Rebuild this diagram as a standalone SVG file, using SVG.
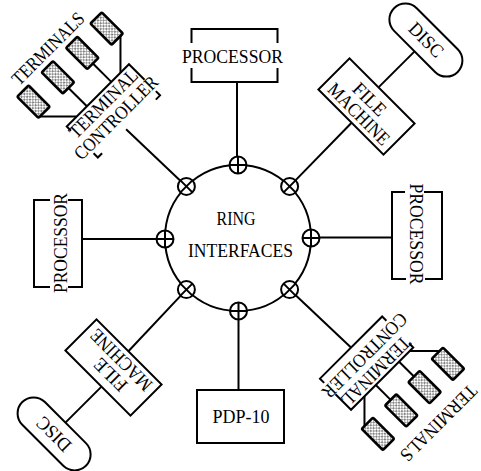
<svg xmlns="http://www.w3.org/2000/svg" width="481" height="471" viewBox="0 0 481 471">
  <style>
    .ln { fill: none; stroke: #000; stroke-width: 2; }
    .box { fill: #fff; stroke: #000; stroke-width: 2; }
    .term { fill: url(#stipple); stroke: #000; stroke-width: 2.6; }
    text { font-family: "Liberation Serif", "Times New Roman", serif; font-size: 19px; fill: #000; text-anchor: middle; }
  </style>
  <defs>
    <pattern id="stipple" width="4" height="4" patternUnits="userSpaceOnUse">
      <rect width="4" height="4" fill="#fff"/>
      <circle cx="1" cy="1.1" r="0.8" fill="#000"/>
      <circle cx="3" cy="3.1" r="0.75" fill="#000"/>
    </pattern>
    <g id="ifc-plus">
      <circle r="8.5" fill="#fff" stroke="#000" stroke-width="2"/>
      <path d="M-8.5,0H8.5M0,-8.5V8.5" stroke="#000" stroke-width="2"/>
    </g>
    <g id="ifc-cross">
      <circle r="8.5" fill="#fff" stroke="#000" stroke-width="2"/>
      <path d="M-6,-6L6,6M-6,6L6,-6" stroke="#000" stroke-width="2"/>
    </g>
  </defs>

  <rect width="481" height="471" fill="#fff"/>

  <!-- links between the ring interfaces and the attached machines -->
  <g id="connectors" class="ln">
    <path d="M237,82V165"/>
    <path d="M311,237.5H392"/>
    <path d="M238.5,311V390"/>
    <path d="M82,239H165"/>
    <path d="M289.6,186.4L351.6,122.8"/>
    <path d="M378.5,87.4L414.6,51.4"/>
    <path d="M186.4,186.4L126.1,129.3"/>
    <path d="M289.6,289.6L351,347.5"/>
    <path d="M186.4,289.6L128.4,351.2"/>
    <path d="M101.5,386.6L65.4,422.6"/>
    <!-- terminal stubs onto the controller bus -->
    <g transform="translate(113.4,110.9) rotate(-45)">
      <path d="M-56,-48L-30,-22M-15.5,-48V-22M19,-48V-22M58,-48L32,-22"/>
    </g>
    <g transform="translate(366.6,363.1) rotate(135)">
      <path d="M-60,-43L-39,-22M-24,-43V-22M9,-43V-22M46,-43L25,-22"/>
    </g>
  </g>

  <!-- ring with its eight interfaces -->
  <g id="ring">
    <circle cx="238" cy="238" r="73" class="ln"/>
    <text x="236" y="225" textLength="39" lengthAdjust="spacingAndGlyphs">RING</text>
    <text x="240.5" y="256.5" textLength="105" lengthAdjust="spacingAndGlyphs">INTERFACES</text>
    <use href="#ifc-plus" x="238" y="165"/>
    <use href="#ifc-plus" x="311" y="238"/>
    <use href="#ifc-plus" x="238.5" y="311"/>
    <use href="#ifc-plus" x="165" y="239"/>
    <use href="#ifc-cross" x="289.6" y="186.4"/>
    <use href="#ifc-cross" x="289.6" y="289.6"/>
    <use href="#ifc-cross" x="186.4" y="289.6"/>
    <use href="#ifc-cross" x="186.4" y="186.4"/>
  </g>

  <g id="processor-top">
    <path class="ln" d="M191.5,43V29H277.5V43M191.5,68V82H277.5V68"/>
    <text x="232.5" y="63" textLength="101" lengthAdjust="spacingAndGlyphs">PROCESSOR</text>
  </g>

  <g id="processor-left">
    <path class="ln" d="M50,200H34V287H50M68,200H82V287H68"/>
    <text transform="translate(66.5,243) rotate(-90)" textLength="100" lengthAdjust="spacingAndGlyphs">PROCESSOR</text>
  </g>

  <g id="processor-right">
    <path class="ln" d="M405,192H392V279H406M424,192H442V279H425"/>
    <text transform="translate(410,234) rotate(90)" textLength="101" lengthAdjust="spacingAndGlyphs">PROCESSOR</text>
  </g>

  <g id="pdp-10">
    <rect class="box" x="197" y="390" width="87" height="53"/>
    <text x="241" y="423" textLength="57" lengthAdjust="spacingAndGlyphs">PDP-10</text>
  </g>

  <g id="file-machine-1" transform="translate(366.5,106.5) rotate(45)">
    <rect class="box" x="-46" y="-22" width="92" height="44"/>
    <text x="-3" y="-1" textLength="39" lengthAdjust="spacingAndGlyphs">FILE</text>
    <text x="0" y="17" textLength="79" lengthAdjust="spacingAndGlyphs">MACHINE</text>
  </g>

  <g id="disc-1" transform="translate(425.9,40.1) rotate(45)">
    <rect class="box" x="-45" y="-16" width="90" height="32" rx="16"/>
    <text x="0" y="6" textLength="41" lengthAdjust="spacingAndGlyphs">DISC</text>
  </g>

  <g id="file-machine-2" transform="translate(113.5,367.5) rotate(225)">
    <rect class="box" x="-46" y="-22" width="92" height="44"/>
    <text x="-3" y="-1" textLength="39" lengthAdjust="spacingAndGlyphs">FILE</text>
    <text x="0" y="17" textLength="79" lengthAdjust="spacingAndGlyphs">MACHINE</text>
  </g>

  <g id="disc-2" transform="translate(54.1,433.9) rotate(225)">
    <rect class="box" x="-45" y="-16" width="90" height="32" rx="16"/>
    <text x="0" y="6" textLength="41" lengthAdjust="spacingAndGlyphs">DISC</text>
  </g>

  <g id="terminal-controller-1" transform="translate(113.4,110.9) rotate(-45)">
    <path class="ln" d="M-44,-16V-22H44V0M44,16V22H38M-44,16V22H-38"/>
    <text x="-2" y="-6" textLength="89" lengthAdjust="spacingAndGlyphs">TERMINAL</text>
    <text x="-3" y="13" textLength="110" lengthAdjust="spacingAndGlyphs">CONTROLLER</text>
  </g>

  <g id="terminals-1" transform="translate(113.4,110.9) rotate(-45)">
    <rect class="term" x="-58" y="-78" width="16" height="30" rx="1.5"/>
    <rect class="term" x="-23.5" y="-78" width="16" height="30" rx="1.5"/>
    <rect class="term" x="11" y="-78" width="16" height="30" rx="1.5"/>
    <rect class="term" x="45.5" y="-78" width="16" height="30" rx="1.5"/>
    <text x="-2" y="-84" font-size="18" textLength="94" lengthAdjust="spacingAndGlyphs">TERMINALS</text>
  </g>

  <g id="terminal-controller-2" transform="translate(366.6,363.1) rotate(135)">
    <path class="ln" d="M-44,-16V-22H44V0M-44,16V22H44V16"/>
    <text x="-1" y="-6" textLength="90" lengthAdjust="spacingAndGlyphs">TERMINAL</text>
    <text x="-4" y="13" textLength="112" lengthAdjust="spacingAndGlyphs">CONTROLLER</text>
  </g>

  <g id="terminals-2" transform="translate(366.6,363.1) rotate(135)">
    <rect class="term" x="-65" y="-73" width="16" height="30" rx="1.5"/>
    <rect class="term" x="-32" y="-73" width="16" height="30" rx="1.5"/>
    <rect class="term" x="1" y="-73" width="16" height="30" rx="1.5"/>
    <rect class="term" x="34" y="-73" width="16" height="30" rx="1.5"/>
    <text x="-8.5" y="-87" textLength="100" lengthAdjust="spacingAndGlyphs">TERMINALS</text>
  </g>
</svg>
